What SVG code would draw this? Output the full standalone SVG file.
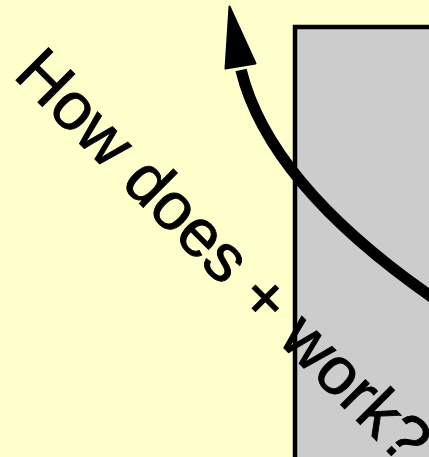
<svg xmlns="http://www.w3.org/2000/svg" width="429" height="457" viewBox="0 0 429 457">
  <style>
    .bg { fill: #FFFFCC; }
    .box { fill: #CCCCCC; stroke: #000000; stroke-width: 4.5; }
    .shaft { fill: none; stroke: #000000; stroke-width: 11.5; }
    .head { fill: #000000; stroke: #000000; stroke-width: 2; stroke-linejoin: round; }
    .label { font-family: "Liberation Sans", Arial, sans-serif; font-size: 67px; fill: #000000; stroke: #000000; stroke-width: 0.9; }
  </style>
  <rect class="bg" x="0" y="0" width="429" height="457"/>
  <g id="box">
    <rect class="box" x="295" y="27" width="160" height="460"/>
  </g>
  <g id="connectors">
    <path class="shaft" d="M 445 306 Q 270 188 241 70"/>
    <polygon class="head" points="229.5,6.5 255.5,63.5 225.5,68.5"/>
  </g>
  <g id="title">
    <text class="label" transform="translate(12,76.3) rotate(45)" x="0" y="0">How does + work?</text>
  </g>
</svg>
